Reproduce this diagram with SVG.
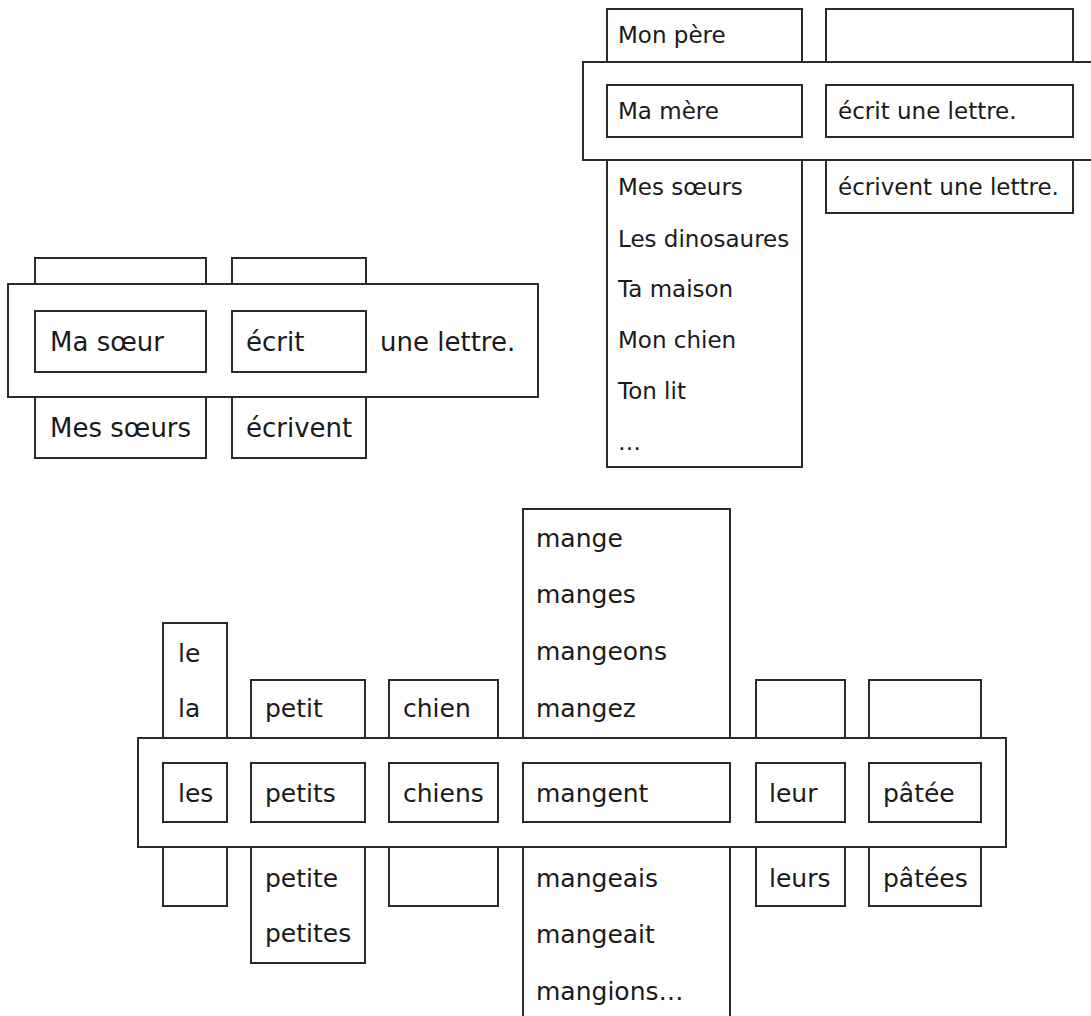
<svg xmlns="http://www.w3.org/2000/svg" width="1091" height="1016" viewBox="0 0 1091 1016">
<style>
.b{fill:#fff;stroke:#2a2a2a;stroke-width:2}
text{font-family:"DejaVu Sans","Verdana",sans-serif;fill:#1a1a1a}
.l{font-size:26px}
.r{font-size:23px}
.m{font-size:25px}
</style>
<rect width="1091" height="1016" fill="#fff"/>
<g id="panel-left">
  <g id="col-sujet"><rect class="b" x="35" y="258" width="171" height="200"/><text class="l" x="50" y="437">Mes sœurs</text></g>
  <g id="col-verbe"><rect class="b" x="232" y="258" width="134" height="200"/><text class="l" x="246" y="437">écrivent</text></g>
  <g id="phrase-left"><rect class="b" x="8" y="284" width="530" height="113"/><text class="l" x="380" y="351">une lettre.</text></g>
  <g id="ma-soeur"><rect class="b" x="35" y="311" width="171" height="61"/><text class="l" x="50" y="351">Ma sœur</text></g>
  <g id="ecrit"><rect class="b" x="232" y="311" width="134" height="61"/><text class="l" x="246" y="351">écrit</text></g>
</g>
<g id="panel-right">
  <g id="col-sujets"><rect class="b" x="607" y="9" width="195" height="458"/>
    <text class="r" x="618" y="43">Mon père</text>
    <text class="r" x="618" y="195">Mes sœurs</text>
    <text class="r" x="618" y="247">Les dinosaures</text>
    <text class="r" x="618" y="297">Ta maison</text>
    <text class="r" x="618" y="348">Mon chien</text>
    <text class="r" x="618" y="399">Ton lit</text>
    <text class="r" x="618" y="450">…</text>
  </g>
  <g id="col-verbes"><rect class="b" x="826" y="9" width="247" height="204"/><text class="r" x="838" y="195">écrivent une lettre.</text></g>
  <g id="phrase-right"><rect class="b" x="583" y="62" width="530" height="98"/></g>
  <g id="ma-mere"><rect class="b" x="607" y="85" width="195" height="52"/><text class="r" x="618" y="119">Ma mère</text></g>
  <g id="ecrit-lettre"><rect class="b" x="826" y="85" width="247" height="52"/><text class="r" x="838" y="119">écrit une lettre.</text></g>
</g>
<g id="panel-bottom">
  <g id="col-det"><rect class="b" x="163" y="623" width="64" height="283"/><text class="m" x="178" y="662">le</text><text class="m" x="178" y="717">la</text></g>
  <g id="col-adj"><rect class="b" x="251" y="680" width="114" height="283"/><text class="m" x="265" y="717">petit</text><text class="m" x="265" y="887">petite</text><text class="m" x="265" y="942">petites</text></g>
  <g id="col-nom"><rect class="b" x="389" y="680" width="109" height="226"/><text class="m" x="403" y="717">chien</text></g>
  <g id="col-verbe-m"><rect class="b" x="523" y="509" width="207" height="520"/>
    <text class="m" x="536" y="547">mange</text>
    <text class="m" x="536" y="603">manges</text>
    <text class="m" x="536" y="660">mangeons</text>
    <text class="m" x="536" y="717">mangez</text>
    <text class="m" x="536" y="887">mangeais</text>
    <text class="m" x="536" y="943">mangeait</text>
    <text class="m" x="536" y="1000">mangions…</text>
  </g>
  <g id="col-poss"><rect class="b" x="756" y="680" width="89" height="226"/><text class="m" x="769" y="887">leurs</text></g>
  <g id="col-patee"><rect class="b" x="869" y="680" width="112" height="226"/><text class="m" x="883" y="887">pâtées</text></g>
  <g id="phrase-bottom"><rect class="b" x="138" y="738" width="868" height="109"/></g>
  <g id="les"><rect class="b" x="163" y="763" width="64" height="59"/><text class="m" x="178" y="802">les</text></g>
  <g id="petits"><rect class="b" x="251" y="763" width="114" height="59"/><text class="m" x="265" y="802">petits</text></g>
  <g id="chiens"><rect class="b" x="389" y="763" width="109" height="59"/><text class="m" x="403" y="802">chiens</text></g>
  <g id="mangent"><rect class="b" x="523" y="763" width="207" height="59"/><text class="m" x="536" y="802">mangent</text></g>
  <g id="leur"><rect class="b" x="756" y="763" width="89" height="59"/><text class="m" x="769" y="802">leur</text></g>
  <g id="patee"><rect class="b" x="869" y="763" width="112" height="59"/><text class="m" x="883" y="802">pâtée</text></g>
</g>
<g id="connectors"/>
</svg>
